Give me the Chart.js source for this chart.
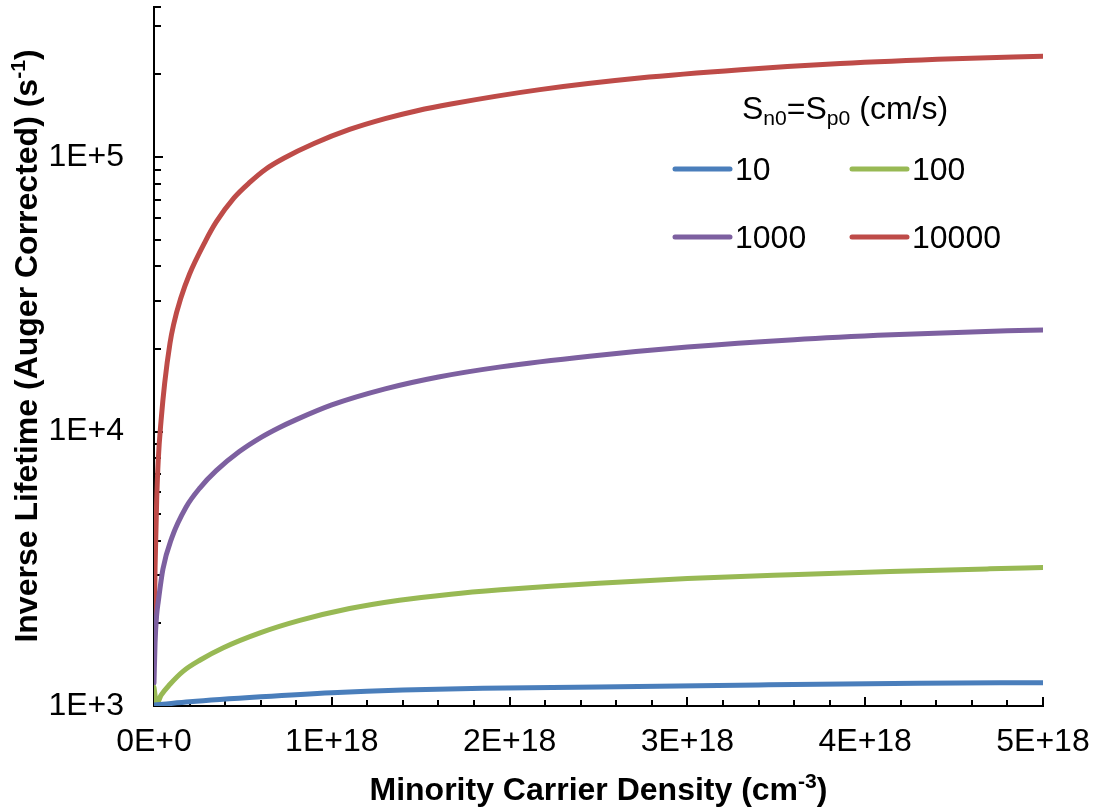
<!DOCTYPE html>
<html>
<head>
<meta charset="utf-8">
<script src="https://cdn.jsdelivr.net/npm/chart.js@4.4.1/dist/chart.umd.min.js"></script>
<style>
  html, body { margin: 0; padding: 0; background: #fff; }
  #wrap { width: 1096px; height: 811px; }
</style>
</head>
<body>
<div id="wrap"><canvas id="lifetimeChart" width="1096" height="811"></canvas></div>
<script>
// Minority carrier density in units of 1E+18 cm^-3, inverse lifetime in s^-1
const n_S10 = [0, 0.05, 0.2, 0.6, 1.0, 1.4, 1.85, 2.5, 3.4, 4.3, 5.0];
const inv_S10 = [1008, 1015, 1036, 1080, 1118, 1144, 1160, 1172, 1193, 1210, 1216];

const n_S100 = [0, 0.015, 0.04, 0.09, 0.165, 0.26, 0.39, 0.6, 0.82, 1.1, 1.38, 1.67, 1.95, 2.23, 2.5, 3.0, 3.58, 4.14, 4.7, 5.0];
const inv_S100 = [1170, 1020, 1095, 1200, 1340, 1471, 1630, 1850, 2050, 2265, 2430, 2555, 2650, 2730, 2800, 2915, 3010, 3090, 3160, 3195];

const n_S1000 = [0, 0.006, 0.015, 0.024, 0.05, 0.1, 0.18, 0.26, 0.35, 0.48, 0.6, 0.7, 0.8, 1.0, 1.3, 1.6, 1.95, 2.45, 3.0, 3.6, 4.15, 4.8, 5.0];
const inv_S1000 = [1210, 1700, 2150, 2400, 3150, 4100, 5300, 6250, 7200, 8450, 9500, 10300, 11050, 12500, 14300, 15800, 17200, 18800, 20300, 21600, 22500, 23300, 23450];

const n_S10000 = [0, 0.006, 0.015, 0.024, 0.04, 0.06, 0.09, 0.11, 0.15, 0.2, 0.29, 0.35, 0.45, 0.54, 0.63, 0.73, 0.9, 1.1, 1.3, 1.48, 1.67, 2.17, 2.73, 3.3, 3.86, 4.5, 5.0];
const inv_S10000 = [1700, 3200, 5600, 7900, 11000, 15000, 21000, 24500, 30500, 37500, 49500, 58000, 71000, 81000, 90500, 99000, 112000, 126000, 138000, 147500, 156000, 176000, 194000, 208000, 219000, 228000, 233000];

const seriesLabels = ['10', '100', '1000', '10000'];
const seriesColors = ['#4A7EBB', '#98B954', '#7D60A0', '#BE4B48'];

const xTickLabels = ['0E+0', '1E+18', '2E+18', '3E+18', '4E+18', '5E+18'];
const yDecades = [1e3, 1e4, 1e5];
const yTickLabels = ['1E+3', '1E+4', '1E+5'];
const yMax = 352000;

const FONT = '"Liberation Sans", Arial, Helvetica, sans-serif';

function pairs(xs, ys) {
    return xs.map((x, i) => ({ x: x, y: ys[i] }));
}

const seriesData = [
    pairs(n_S10, inv_S10),
    pairs(n_S100, inv_S100),
    pairs(n_S1000, inv_S1000),
    pairs(n_S10000, inv_S10000)
];

// text with sub/superscript pieces, drawn left to right
function richWidth(ctx, parts, size, weight) {
    let w = 0;
    parts.forEach(p => {
        const s = p.sup || p.sub ? size * 0.66 : size;
        ctx.font = `${weight} ${s}px ${FONT}`;
        w += ctx.measureText(p.t).width;
    });
    return w;
}

function drawRich(ctx, parts, x, y, size, weight) {
    let cx = x;
    parts.forEach(p => {
        const s = p.sup || p.sub ? size * 0.66 : size;
        ctx.font = `${weight} ${s}px ${FONT}`;
        let dy = 0;
        if (p.sup) dy = -size * 0.36;
        if (p.sub) dy = size * 0.2;
        ctx.fillText(p.t, cx, y + dy);
        cx += ctx.measureText(p.t).width;
    });
}

const xTitleParts = [{ t: 'Minority Carrier Density (cm' }, { t: '-3', sup: true }, { t: ')' }];
const yTitleParts = [{ t: 'Inverse Lifetime (Auger Corrected) (s' }, { t: '-1', sup: true }, { t: ')' }];
const legendTitleParts = [{ t: 'S' }, { t: 'n0', sub: true }, { t: '=S' }, { t: 'p0', sub: true }, { t: ' (cm/s)' }];

// small inward tick marks on both axes
const insideTicks = {
    id: 'insideTicks',
    beforeDatasetsDraw(chart) {
        const { ctx, chartArea, scales } = chart;
        ctx.save();
        ctx.strokeStyle = '#000';
        ctx.lineWidth = 2;
        scales.x.ticks.forEach(t => {
            const px = Math.round(scales.x.getPixelForValue(t.value));
            const major = Math.abs(t.value - Math.round(t.value)) < 1e-6;
            const len = major ? 9 : 6;
            ctx.beginPath();
            ctx.moveTo(px, chartArea.bottom);
            ctx.lineTo(px, chartArea.bottom - len);
            ctx.stroke();
        });
        scales.y.ticks.forEach(t => {
            const py = Math.round(scales.y.getPixelForValue(t.value));
            const len = t.major ? 9 : 7;
            ctx.beginPath();
            ctx.moveTo(chartArea.left, py);
            ctx.lineTo(chartArea.left + len, py);
            ctx.stroke();
        });
        ctx.restore();
    }
};

// axis titles and the two-column legend
const annotations = {
    id: 'annotations',
    afterDraw(chart) {
        const { ctx, chartArea } = chart;
        ctx.save();
        ctx.fillStyle = '#000';
        ctx.textBaseline = 'alphabetic';
        ctx.textAlign = 'left';

        // x axis title
        const tSize = 32;
        const xw = richWidth(ctx, xTitleParts, tSize, 'bold');
        const xc = (chartArea.left + chartArea.right) / 2;
        drawRich(ctx, xTitleParts, xc - xw / 2, 800, tSize, 'bold');

        // y axis title, rotated
        const yw = richWidth(ctx, yTitleParts, tSize, 'bold');
        ctx.save();
        ctx.translate(37, 346);
        ctx.rotate(-Math.PI / 2);
        drawRich(ctx, yTitleParts, -yw / 2, 0, tSize, 'bold');
        ctx.restore();

        // legend
        const lSize = 32;
        drawRich(ctx, legendTitleParts, 742, 119, lSize, 'normal');
        const cols = [675, 852];
        const rows = [169, 237];
        ctx.lineCap = 'round';
        ctx.lineWidth = 5;
        seriesLabels.forEach((lab, i) => {
            const lx = cols[i % 2];
            const ly = rows[Math.floor(i / 2)];
            ctx.strokeStyle = seriesColors[i];
            ctx.beginPath();
            ctx.moveTo(lx, ly);
            ctx.lineTo(lx + 55, ly);
            ctx.stroke();
            ctx.font = `${lSize}px ${FONT}`;
            ctx.fillText(lab, lx + 60, ly + 11);
        });
        ctx.restore();
    }
};

const yTickValues = [];
yDecades.forEach(d => {
    for (let k = 1; k <= 9; k++) {
        if (d * k <= yMax) yTickValues.push({ value: d * k, major: k === 1 });
    }
});
yTickValues.push({ value: yMax, major: false });

new Chart(document.getElementById('lifetimeChart'), {
    type: 'scatter',
    data: {
        datasets: seriesData.map((d, i) => ({
            label: seriesLabels[i],
            data: d,
            showLine: true,
            borderColor: seriesColors[i],
            backgroundColor: seriesColors[i],
            borderWidth: 5,
            pointRadius: 0,
            cubicInterpolationMode: 'monotone',
            borderCapStyle: 'round'
        }))
    },
    options: {
        responsive: false,
        devicePixelRatio: 1,
        animation: false,
        layout: { padding: { left: 0, right: 53, top: 7, bottom: 0 } },
        plugins: {
            legend: { display: false },
            tooltip: { enabled: false }
        },
        scales: {
            x: {
                type: 'linear',
                min: 0,
                max: 5,
                grid: { display: false, drawTicks: false },
                border: { display: true, color: '#000', width: 2 },
                ticks: {
                    stepSize: 0.2,
                    autoSkip: false,
                    maxRotation: 0,
                    padding: 17,
                    color: '#000',
                    font: { family: FONT, size: 32 },
                    callback: v => {
                        const r = Math.round(v);
                        return Math.abs(v - r) < 1e-6 ? xTickLabels[r] : '';
                    }
                },
                afterFit: s => { s.height = 105; s.paddingLeft = 0; s.paddingRight = 0; }
            },
            y: {
                type: 'logarithmic',
                min: 1000,
                max: yMax,
                grid: { display: false, drawTicks: false },
                border: { display: true, color: '#000', width: 2 },
                afterBuildTicks: s => { s.ticks = yTickValues.map(t => ({ value: t.value, major: t.major })); },
                ticks: {
                    autoSkip: false,
                    padding: 30,
                    color: '#000',
                    font: { family: FONT, size: 32 },
                    callback: v => {
                        const i = yDecades.indexOf(v);
                        return i >= 0 ? yTickLabels[i] : '';
                    }
                },
                afterFit: s => { s.width = 154; s.paddingTop = 0; s.paddingBottom = 0; }
            }
        }
    },
    plugins: [insideTicks, annotations]
});
</script>
</body>
</html>
